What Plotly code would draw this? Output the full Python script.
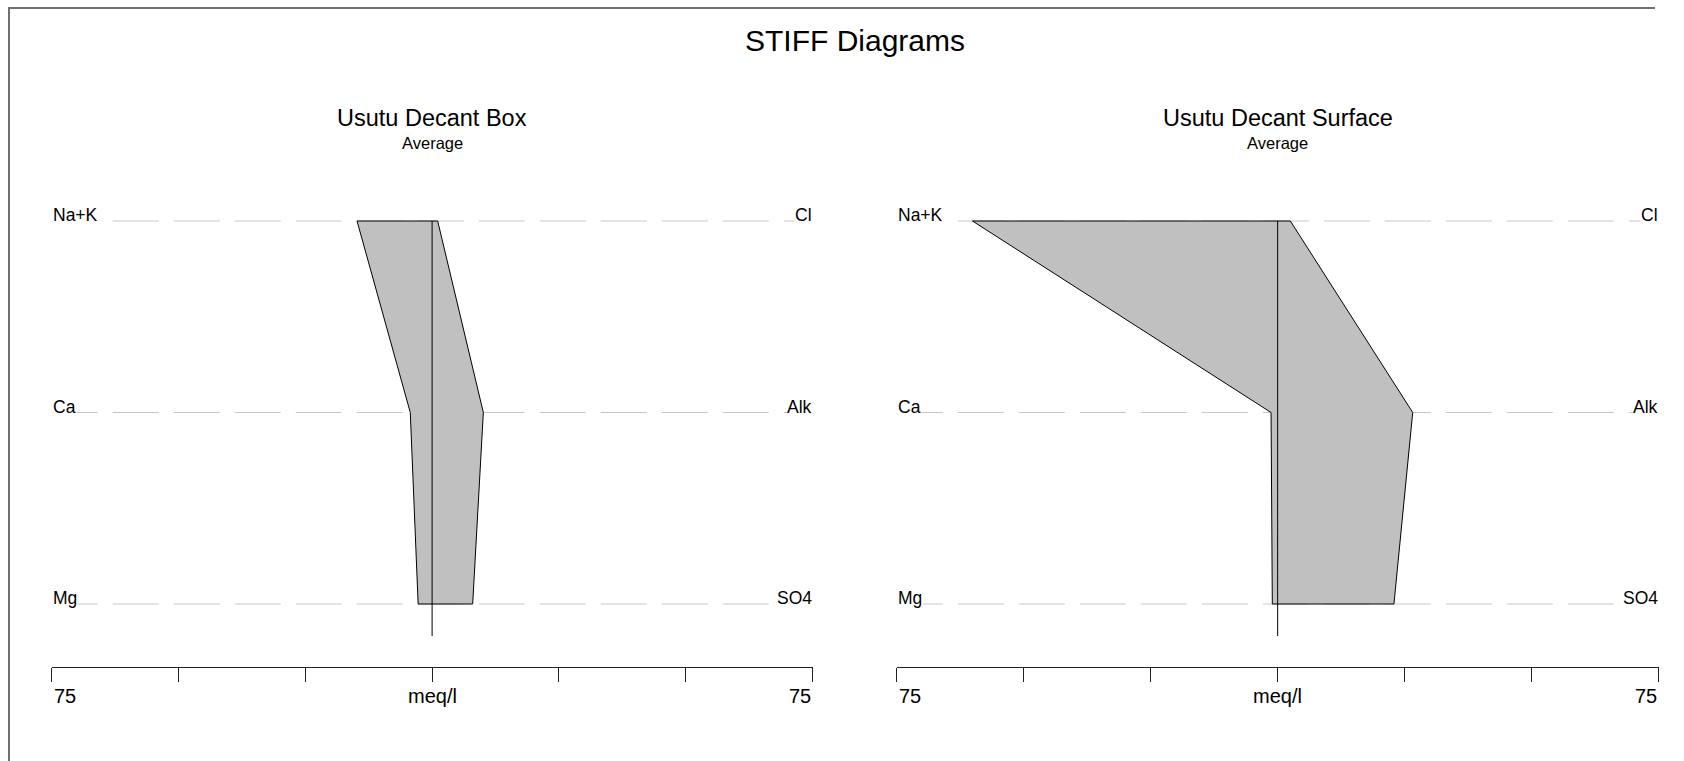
import plotly.graph_objects as go

W, H = 1684, 761

# ---- data ----
cations = ["Na+K", "Ca", "Mg"]
anions = ["Cl", "Alk", "SO4"]
row_pos = [3, 2, 1]
panel_titles = ["Usutu Decant Box", "Usutu Decant Surface"]
panel_subtitles = ["Average", "Average"]
box_cations = [14.8, 4.3, 2.75]
box_anions = [1.1, 10.1, 8.0]
surface_cations = [60.1, 1.3, 1.05]
surface_anions = [2.5, 26.6, 22.9]
scale_max = 75
tick_vals = [-75, -50, -25, 0, 25, 50, 75]
axis_unit = "meq/l"

samples = [(box_cations, box_anions), (surface_cations, surface_anions)]

FONT = "Liberation Sans, Arial, sans-serif"

def px_x(p):
    return p / W

def px_y(p):
    return 1 - p / H

# pixel layout
panel_px = [(51.7, 812.5), (896.8, 1658.5)]
top_row_px, bot_row_px = 221.0, 604.0
dom_top_px, dom_bot_px = 150.0, 667.0
ppu = (bot_row_px - top_row_px) / (row_pos[0] - row_pos[-1])
y_lo = row_pos[0] - (dom_bot_px - top_row_px) / ppu
y_hi = row_pos[0] + (top_row_px - dom_top_px) / ppu
stem_ext = (636 - bot_row_px) / ppu

fig = go.Figure()

fig.add_trace(go.Scatter(x=[None], y=[None], xaxis="x3", yaxis="y3",
                         hoverinfo="skip", showlegend=False))

for i, (cat, an) in enumerate(samples):
    xa = "x" if i == 0 else "x2"
    ya = "y" if i == 0 else "y2"
    for r in row_pos:
        fig.add_trace(go.Scatter(
            x=[-scale_max, scale_max], y=[r, r], mode="lines",
            line=dict(color="#c8c8c8", width=1, dash="46px,15px"),
            xaxis=xa, yaxis=ya, hoverinfo="skip", showlegend=False))
    xs = [-v for v in cat] + list(reversed(an)) + [-cat[0]]
    ys = list(row_pos) + list(reversed(row_pos)) + [row_pos[0]]
    fig.add_trace(go.Scatter(
        x=xs, y=ys, mode="lines", fill="toself", fillcolor="#c0c0c0",
        line=dict(color="#000000", width=1),
        xaxis=xa, yaxis=ya, hoverinfo="skip", showlegend=False))
    fig.add_trace(go.Scatter(
        x=[0, 0], y=[row_pos[0], row_pos[-1] - stem_ext], mode="lines",
        line=dict(color="#000000", width=1),
        xaxis=xa, yaxis=ya, hoverinfo="skip", showlegend=False))

annotations = []
for i in range(2):
    xa = "x" if i == 0 else "x2"
    ya = "y" if i == 0 else "y2"
    l, r = panel_px[i]
    cx = (l + r) / 2
    annotations.append(dict(text=panel_titles[i], x=px_x(cx), y=px_y(118), xref="paper", yref="paper",
                            xanchor="center", yanchor="middle", showarrow=False,
                            font=dict(family=FONT, size=23.5, color="#000")))
    annotations.append(dict(text=panel_subtitles[i], x=px_x(cx), y=px_y(143), xref="paper", yref="paper",
                            xanchor="center", yanchor="middle", showarrow=False,
                            font=dict(family=FONT, size=16.5, color="#000")))
    for c, a, rp in zip(cations, anions, row_pos):
        annotations.append(dict(text=c, x=-scale_max, y=rp, xref=xa, yref=ya, xanchor="left",
                                yanchor="middle", yshift=6, showarrow=False, bgcolor="white", borderpad=0,
                                font=dict(family=FONT, size=17.5, color="#000")))
        annotations.append(dict(text=a, x=scale_max, y=rp, xref=xa, yref=ya, xanchor="right",
                                yanchor="middle", yshift=6, showarrow=False, bgcolor="white", borderpad=0,
                                font=dict(family=FONT, size=17.5, color="#000")))
    for txt, xv, anc in [(str(scale_max), -scale_max, "left"), (axis_unit, 0, "center"),
                         (str(scale_max), scale_max, "right")]:
        annotations.append(dict(text=txt, x=xv, y=px_y(696), xref=xa, yref="paper", xanchor=anc,
                                yanchor="middle", showarrow=False,
                                font=dict(family=FONT, size=20, color="#000")))

annotations.append(dict(text="STIFF Diagrams", x=px_x(855), y=px_y(41), xref="paper", yref="paper",
                        xanchor="center", yanchor="middle", showarrow=False,
                        font=dict(family=FONT, size=30, color="#000")))

xaxis_common = dict(range=[-scale_max, scale_max], showgrid=False, zeroline=False,
                    showline=True, linecolor="#222", linewidth=1, ticks="outside",
                    ticklen=14, tickcolor="#222", tickwidth=1, tickvals=tick_vals,
                    showticklabels=False, fixedrange=True)
yaxis_common = dict(range=[y_lo, y_hi], showgrid=False, zeroline=False, showline=False,
                    showticklabels=False, ticks="", fixedrange=True,
                    domain=[px_y(dom_bot_px), px_y(dom_top_px)])
frame_axis = dict(showline=True, linecolor="#707070", linewidth=2, showgrid=False, zeroline=False,
                  showticklabels=False, ticks="", fixedrange=True, range=[0, 1])

fig.update_layout(
    width=W, height=H,
    margin=dict(l=0, r=0, t=0, b=0),
    paper_bgcolor="white", plot_bgcolor="rgba(0,0,0,0)",
    xaxis=dict(domain=[px_x(panel_px[0][0]), px_x(panel_px[0][1])], anchor="y", **xaxis_common),
    yaxis=dict(anchor="x", **yaxis_common),
    xaxis2=dict(domain=[px_x(panel_px[1][0]), px_x(panel_px[1][1])], anchor="y2", **xaxis_common),
    yaxis2=dict(anchor="x2", **yaxis_common),
    xaxis3=dict(domain=[px_x(9.5), px_x(1655)], anchor="y3", side="top", **frame_axis),
    yaxis3=dict(domain=[0.0, px_y(9)], anchor="x3", side="left", **frame_axis),
    annotations=annotations,
    showlegend=False,
)

fig.write_html("out.html", config=dict(displayModeBar=False))
